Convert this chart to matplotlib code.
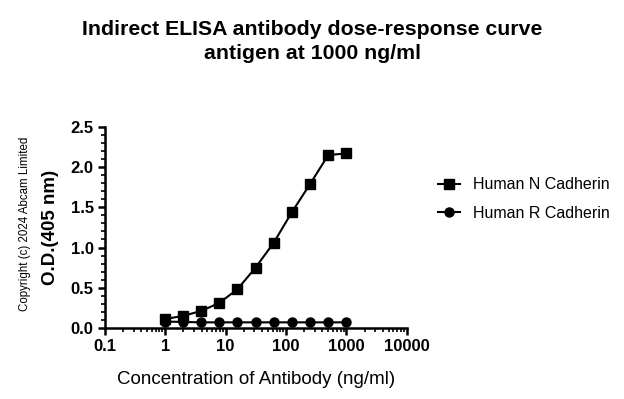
import matplotlib
matplotlib.use("Agg")
import matplotlib.pyplot as plt
from matplotlib.ticker import LogLocator, NullFormatter, FixedLocator, FixedFormatter, MultipleLocator

plt.rcParams['font.family'] = ['Liberation Sans', 'DejaVu Sans']

# antibody concentration (ng/ml) and O.D. readings
conc = [0.98, 1.95, 3.9, 7.8, 15.6, 31.25, 62.5, 125, 250, 500, 1000]
od_n_cadherin = [0.11, 0.15, 0.21, 0.31, 0.48, 0.75, 1.06, 1.44, 1.79, 2.15, 2.17]
od_r_cadherin = [0.08, 0.075, 0.07, 0.07, 0.07, 0.07, 0.07, 0.07, 0.07, 0.07, 0.07]

x_ticks = [0.1, 1, 10, 100, 1000, 10000]
x_tick_labels = ['0.1', '1', '10', '100', '1000', '10000']
y_ticks = [0.0, 0.5, 1.0, 1.5, 2.0, 2.5]

fig = plt.figure(figsize=(6.24, 3.99), dpi=100)
ax = fig.add_axes([0.168, 0.178, 0.484, 0.504])

ax.plot(conc, od_n_cadherin, color='black', marker='s', markersize=6.5,
        linewidth=1.5, label='Human N Cadherin')
ax.plot(conc, od_r_cadherin, color='black', marker='o', markersize=6.5,
        linewidth=1.5, label='Human R Cadherin')

ax.set_xscale('log')
ax.set_xlim(0.1, 10000)
ax.set_ylim(0, 2.5)
ax.xaxis.set_major_locator(FixedLocator(x_ticks))
ax.xaxis.set_major_formatter(FixedFormatter(x_tick_labels))
ax.xaxis.set_minor_locator(LogLocator(base=10, subs=range(2, 10), numticks=20))
ax.xaxis.set_minor_formatter(NullFormatter())
ax.set_yticks(y_ticks)
ax.set_yticklabels([f'{v:.1f}' for v in y_ticks])
ax.yaxis.set_minor_locator(MultipleLocator(0.1))

for side in ['top', 'right']:
    ax.spines[side].set_visible(False)
for side in ['left', 'bottom']:
    ax.spines[side].set_linewidth(1.8)

ax.tick_params(axis='both', which='major', direction='out', length=5, width=1.8,
               labelsize=12, pad=3)
ax.tick_params(axis='both', which='minor', direction='out', length=3, width=1.2)
for lbl in ax.get_xticklabels() + ax.get_yticklabels():
    lbl.set_fontweight('bold')

ax.set_xlabel('Concentration of Antibody (ng/ml)', fontsize=13.5, labelpad=12)
ax.set_ylabel('O.D.(405 nm)', fontsize=13.5, fontweight='bold', labelpad=8)

fig.text(0.5, 0.897, 'Indirect ELISA antibody dose-response curve\nantigen at 1000 ng/ml',
         ha='center', va='center', fontsize=15.3, fontweight='bold', linespacing=1.33)
fig.text(0.04, 0.44, 'Copyright (c) 2024 Abcam Limited', rotation=90,
         ha='center', va='center', fontsize=8.3)

ax.legend(loc='upper left', bbox_to_anchor=(1.055, 0.82), frameon=False,
          fontsize=11.5, handlelength=1.4, handletextpad=0.8, labelspacing=0.85)

fig.savefig('out.png', dpi=100)
